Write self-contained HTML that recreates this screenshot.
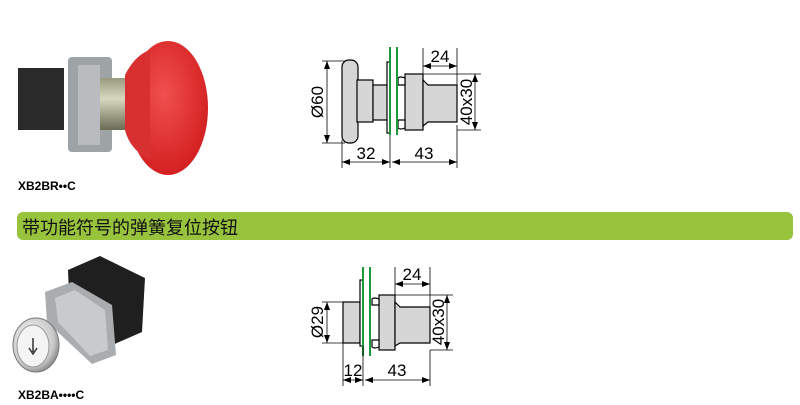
<!DOCTYPE html>
<html><head><meta charset="utf-8"><style>
html,body{margin:0;padding:0;background:#fff;}
svg{display:block}
text{font-family:"Liberation Sans",sans-serif;}
</style></head><body>
<svg width="800" height="405" viewBox="0 0 800 405" xmlns="http://www.w3.org/2000/svg">
<defs>
<marker id="a" markerWidth="8" markerHeight="6" refX="8" refY="3" orient="auto-start-reverse" markerUnits="userSpaceOnUse"><path d="M0,0 L8,3 L0,6 Z" fill="#000"/></marker>
<radialGradient id="red" cx="0.45" cy="0.4" r="0.6"><stop offset="0" stop-color="#f05050"/><stop offset="1" stop-color="#d42020"/></radialGradient>
<linearGradient id="cyl" x1="0" y1="0" x2="0" y2="1"><stop offset="0" stop-color="#9a9a80"/><stop offset="0.4" stop-color="#d8d8c0"/><stop offset="1" stop-color="#6a6a55"/></linearGradient>
<radialGradient id="sil" cx="0.4" cy="0.4" r="0.7"><stop offset="0" stop-color="#fff"/><stop offset="0.7" stop-color="#c8c8c8"/><stop offset="1" stop-color="#707070"/></radialGradient>
</defs>

<!-- Photo 1 -->
<rect x="18" y="68" width="46" height="62" fill="#2a2a2a"/>
<rect x="68" y="57" width="44" height="95" rx="4" fill="#9ea3a6"/>
<rect x="78" y="65" width="22" height="80" fill="#b8bcbe"/>
<rect x="100" y="78" width="38" height="52" fill="url(#cyl)"/>
<ellipse cx="168" cy="108" rx="40" ry="67" fill="url(#red)"/>
<path d="M125,75 Q135,55 150,50 L150,160 Q130,150 125,130 Z" fill="#d83030"/>
<text x="18" y="190" font-size="12" font-weight="bold">XB2BR••C</text>

<!-- Green bar -->
<rect x="17" y="212" width="776" height="28" rx="6" fill="#98c33c"/>
<text x="22" y="234" font-size="18" fill="#111" style="font-family:'Liberation Sans','Noto Sans CJK SC',sans-serif">带功能符号的弹簧复位按钮</text>

<!-- Photo 2 -->
<polygon points="68,270 100,256 145,278 142,332 110,346 70,322" fill="#1f1f1f"/>
<polygon points="45,292 72,282 112,305 116,355 92,364 47,322" fill="#a9adb0"/>
<polygon points="55,298 75,290 105,310 108,350 90,356 58,322" fill="#c8cbcd"/>
<ellipse cx="36" cy="345" rx="23" ry="27" fill="url(#sil)" stroke="#777" stroke-width="1"/>
<ellipse cx="33" cy="346" rx="16" ry="21" fill="#f4f4f4" stroke="#999"/>
<path d="M33,338 L33,352 M29,348 L33,354 L37,348" stroke="#333" stroke-width="1.5" fill="none"/>
<text x="18" y="399" font-size="12" font-weight="bold">XB2BA••••C</text>

<!-- Drawing 1 -->
<g stroke="#000" stroke-width="1.2" fill="#d6d6d6">
<rect x="342" y="60" width="16" height="83" rx="7"/>
<rect x="357" y="80" width="16" height="42"/>
<rect x="373" y="85" width="15" height="35"/>
<rect x="387" y="62" width="3" height="71" fill="#fff"/>
<rect x="405" y="74" width="18" height="56"/>
<path d="M423,80 L428,85 L457,85 L457,122 L428,122 L423,126 Z"/>
<path d="M398,78 Q400,76 405,78 L405,85 L398,85 Z M398,120 L405,120 L405,128 Q400,130 398,128 Z" fill="#fff"/>
</g>
<g stroke="#1a9a3a" stroke-width="2"><line x1="390" y1="47" x2="390" y2="135"/><line x1="397" y1="47" x2="397" y2="135"/></g>
<g stroke="#000" stroke-width="0.8" fill="none">
<line x1="342" y1="140" x2="342" y2="168"/><line x1="390" y1="135" x2="390" y2="168"/><line x1="457" y1="125" x2="457" y2="168"/>
<line x1="342" y1="162" x2="390" y2="162" marker-start="url(#a)" marker-end="url(#a)"/>
<line x1="392" y1="162" x2="457" y2="162" marker-start="url(#a)" marker-end="url(#a)"/>
<line x1="322" y1="61" x2="345" y2="61"/><line x1="322" y1="143" x2="345" y2="143"/>
<line x1="327" y1="61" x2="327" y2="143" marker-start="url(#a)" marker-end="url(#a)"/>
<line x1="423" y1="48" x2="423" y2="74"/><line x1="457" y1="48" x2="457" y2="85"/>
<line x1="423" y1="66" x2="457" y2="66" marker-start="url(#a)" marker-end="url(#a)"/>
<line x1="423" y1="74" x2="481" y2="74"/><line x1="457" y1="130" x2="481" y2="130"/>
<line x1="475" y1="74" x2="475" y2="130" marker-start="url(#a)" marker-end="url(#a)"/>
</g>
<g font-size="17" text-anchor="middle">
<text x="366" y="159">32</text><text x="424" y="159">43</text><text x="440" y="62">24</text>
<text transform="translate(323,102) rotate(-90)">Ø60</text>
<text transform="translate(472,102) rotate(-90)">40x30</text>
</g>

<!-- Drawing 2 -->
<g stroke="#000" stroke-width="1.2" fill="#d6d6d6">
<rect x="343" y="302" width="17" height="41"/>
<rect x="360" y="280" width="3" height="66" fill="#fff"/>
<rect x="379" y="295" width="16" height="55"/>
<path d="M395,302 L400,307 L430,307 L430,343 L400,343 L395,346 Z"/>
<path d="M372,299 Q374,297 379,299 L379,305 L372,305 Z M372,340 L379,340 L379,347 Q374,349 372,347 Z" fill="#fff"/>
</g>
<g stroke="#1a9a3a" stroke-width="2"><line x1="363" y1="267" x2="363" y2="356"/><line x1="370" y1="267" x2="370" y2="356"/></g>
<g stroke="#000" stroke-width="0.8" fill="none">
<line x1="343" y1="343" x2="343" y2="386"/><line x1="363" y1="346" x2="363" y2="386"/><line x1="430" y1="350" x2="430" y2="386"/>
<line x1="343" y1="380" x2="363" y2="380" marker-start="url(#a)" marker-end="url(#a)"/>
<line x1="365" y1="380" x2="430" y2="380" marker-start="url(#a)" marker-end="url(#a)"/>
<line x1="322" y1="302" x2="345" y2="302"/><line x1="322" y1="343" x2="345" y2="343"/>
<line x1="327" y1="302" x2="327" y2="343" marker-start="url(#a)" marker-end="url(#a)"/>
<line x1="395" y1="267" x2="395" y2="295"/><line x1="430" y1="267" x2="430" y2="307"/>
<line x1="395" y1="284" x2="430" y2="284" marker-start="url(#a)" marker-end="url(#a)"/>
<line x1="395" y1="295" x2="453" y2="295"/><line x1="430" y1="350" x2="453" y2="350"/>
<line x1="447" y1="295" x2="447" y2="350" marker-start="url(#a)" marker-end="url(#a)"/>
</g>
<g font-size="17" text-anchor="middle">
<text x="353" y="376">12</text><text x="397" y="376">43</text><text x="412" y="280">24</text>
<text transform="translate(323,322) rotate(-90)">Ø29</text>
<text transform="translate(444,322) rotate(-90)">40x30</text>
</g>
</svg>
</body></html>
